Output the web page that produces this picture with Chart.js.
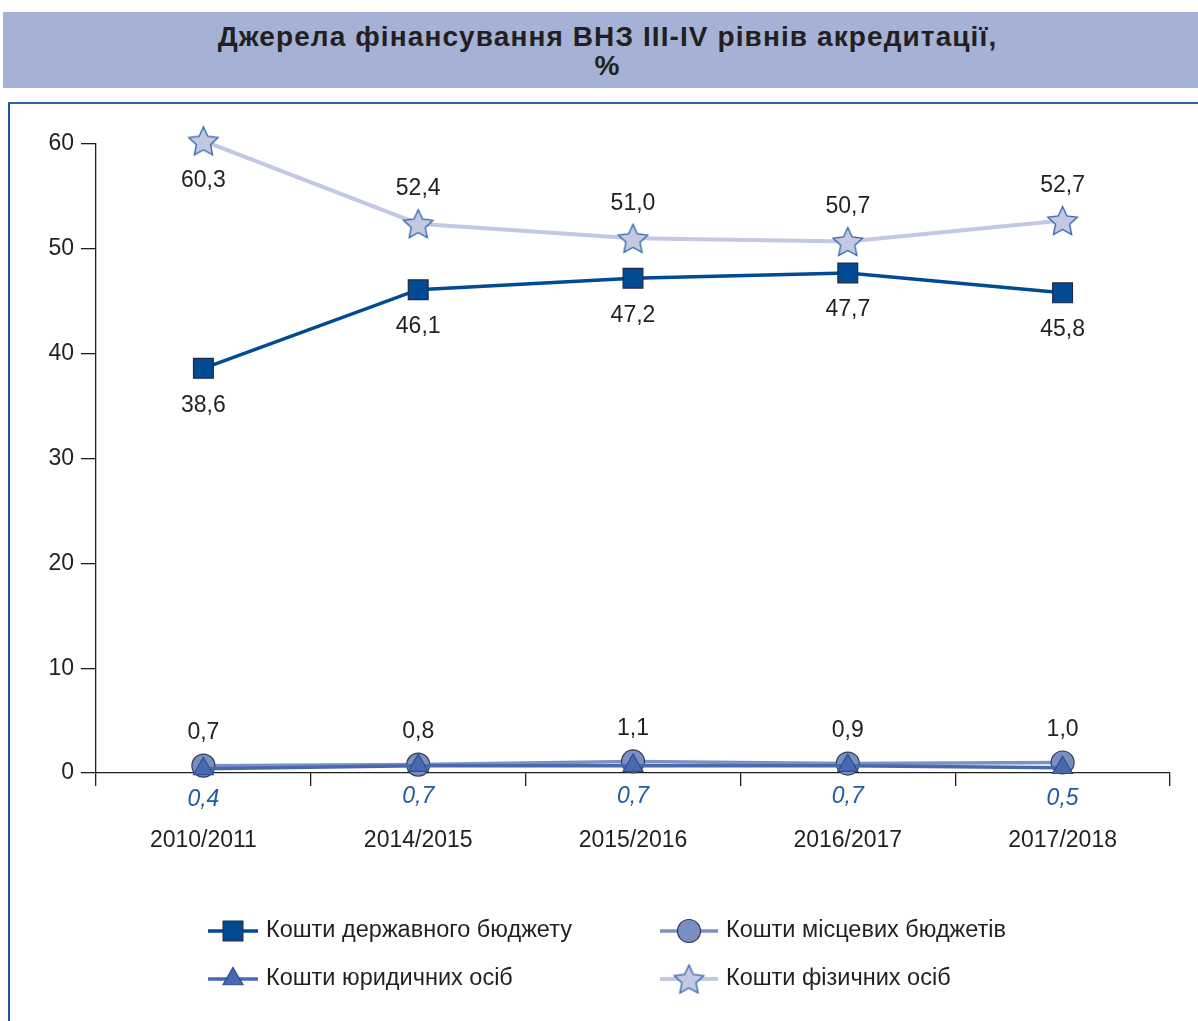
<!DOCTYPE html>
<html>
<head>
<meta charset="utf-8">
<script src="https://cdn.jsdelivr.net/npm/chart.js@4.4.1/dist/chart.umd.min.js"></script>
<style>
body{margin:0;background:#fff;width:1198px;height:1021px;overflow:hidden;position:relative;font-family:"Liberation Sans",Arial,sans-serif;}
#head{position:absolute;left:3px;top:12px;width:1195px;height:76px;background:#a5b1d5;color:#231f20;text-align:center;font-weight:bold;font-size:28px;letter-spacing:1.1px;line-height:29px;padding-top:10px;padding-left:14px;box-sizing:border-box;}
#frame{position:absolute;left:8px;top:102px;width:1190px;height:919px;border-left:2px solid #1d56a0;border-top:2px solid #2f63aa;}
#wrap{position:absolute;left:0;top:0;width:1198px;height:1021px;}
</style>
</head>
<body>
<div id="head">Джерела фінансування ВНЗ III-IV рівнів акредитації,<br>%</div>
<div id="frame"></div>
<div id="wrap"><canvas id="myChart" width="1198" height="1021"></canvas></div>
<script>
// academic years
const years = ["2010/2011", "2014/2015", "2015/2016", "2016/2017", "2017/2018"];

// shares of funding sources, %
const stateBudget = [38.6, 46.1, 47.2, 47.7, 45.8];
const localBudgets = [0.7, 0.8, 1.1, 0.9, 1.0];
const legalPersons = [0.4, 0.7, 0.7, 0.7, 0.5];
const individuals = [60.3, 52.4, 51.0, 50.7, 52.7];

const seriesNames = [
    "Кошти державного бюджету",
    "Кошти місцевих бюджетів",
    "Кошти юридичних осіб",
    "Кошти фізичних осіб"
];

const yTicks = [0, 10, 20, 30, 40, 50, 60];

const textColor = '#231f20';
const fontFamily = '"Liberation Sans", Arial, sans-serif';
const fmt = v => v.toFixed(1).replace('.', ',');

// five pointed star marker
function makeStar(r, fill, stroke) {
    const size = Math.ceil(r * 2 + 4);
    const c = document.createElement('canvas');
    c.width = size;
    c.height = size;
    const g = c.getContext('2d');
    g.beginPath();
    for (let i = 0; i < 10; i++) {
        const rr = i % 2 ? r * 0.48 : r;
        const a = -Math.PI / 2 + i * Math.PI / 5;
        g.lineTo(size / 2 + rr * Math.cos(a), size / 2 + 1.5 + rr * Math.sin(a));
    }
    g.closePath();
    g.fillStyle = fill;
    g.fill();
    g.lineWidth = 1.3;
    g.strokeStyle = stroke;
    g.stroke();
    return c;
}
const star = makeStar(15.5, '#c3c9e3', '#2d62a8');

// numbers next to the points
const valueLabels = {
    id: 'valueLabels',
    afterDatasetsDraw(chart) {
        const ctx = chart.ctx;
        chart.data.datasets.forEach((ds, i) => {
            const meta = chart.getDatasetMeta(i);
            meta.data.forEach((pt, j) => {
                const off = typeof ds.labelOffset === 'function' ? ds.labelOffset(j) : ds.labelOffset;
                ctx.save();
                ctx.font = ds.labelFont;
                ctx.fillStyle = ds.labelColor;
                ctx.textAlign = 'center';
                ctx.textBaseline = 'middle';
                ctx.fillText(fmt(ds.data[j]), pt.x, pt.y + off);
                ctx.restore();
            });
        });
    }
};

// two column legend under the chart: [line start, text start, y]
const legendSpots = [[208, 266, 931], [660, 726, 931], [208, 266, 979], [660, 726, 979]];
const sideLegend = {
    id: 'sideLegend',
    afterDraw(chart) {
        const ctx = chart.ctx;
        chart.data.datasets.forEach((ds, i) => {
            const [x, tx, y] = legendSpots[i];
            const x2 = tx - 8;
            ctx.save();
            ctx.strokeStyle = ds.borderColor;
            ctx.lineWidth = ds.borderWidth;
            ctx.beginPath();
            ctx.moveTo(x, y);
            ctx.lineTo(x2, y);
            ctx.stroke();
            ctx.fillStyle = ds.pointBackgroundColor;
            ctx.strokeStyle = ds.pointBorderColor;
            ctx.lineWidth = ds.pointBorderWidth;
            Chart.helpers.drawPoint(ctx, {
                pointStyle: ds.pointStyle,
                radius: ds.pointRadius,
                rotation: 0,
                borderWidth: ds.pointBorderWidth
            }, (x + x2) / 2, y);
            ctx.fillStyle = textColor;
            ctx.font = '23.5px ' + fontFamily;
            ctx.textAlign = 'left';
            ctx.textBaseline = 'middle';
            ctx.fillText(ds.label, tx, y);
            ctx.restore();
        });
    }
};

let myChart = document.getElementById("myChart").getContext("2d");

let fundingChart = new Chart(myChart, {
    type: 'line',
    data: {
        labels: years,
        datasets: [{//state budget
            label: seriesNames[0],
            data: stateBudget,
            borderColor: '#004b93',
            borderWidth: 3.5,
            pointStyle: 'rect',
            pointRadius: 14,
            pointBackgroundColor: '#004b93',
            pointBorderColor: '#1f2a44',
            pointBorderWidth: 1.2,
            order: 0,
            labelOffset: 37,
            labelFont: '23px ' + fontFamily,
            labelColor: textColor
        }, {//local budgets
            label: seriesNames[1],
            data: localBudgets,
            borderColor: '#7d90c6',
            borderWidth: 3.5,
            pointStyle: 'circle',
            pointRadius: 11.5,
            pointBackgroundColor: '#7b8ec3',
            pointBorderColor: '#333a4d',
            pointBorderWidth: 1.2,
            order: 2,
            labelOffset: -33,
            labelFont: '23px ' + fontFamily,
            labelColor: textColor
        }, {//legal persons
            label: seriesNames[2],
            data: legalPersons,
            borderColor: '#4a69ac',
            borderWidth: 3.5,
            pointStyle: 'triangle',
            pointRadius: 11.5,
            pointBackgroundColor: '#4a69ac',
            pointBorderColor: '#2b4f96',
            pointBorderWidth: 1.2,
            order: 1,
            labelOffset: 31,
            labelFont: 'italic 23px ' + fontFamily,
            labelColor: '#1e5ba3'
        }, {//individuals
            label: seriesNames[3],
            data: individuals,
            borderColor: '#c3c9e3',
            borderWidth: 4,
            pointStyle: star,
            pointRadius: 15.5,
            pointBackgroundColor: '#c3c9e3',
            pointBorderColor: '#2d62a8',
            pointBorderWidth: 1.3,
            order: 3,
            labelOffset: j => j === 0 ? 40 : -35,
            labelFont: '23px ' + fontFamily,
            labelColor: textColor
        }]
    },
    options: {
        responsive: false,
        animation: false,
        clip: false,
        layout: {
            padding: {left: 0, right: 28, top: 144, bottom: 148}
        },
        elements: {
            line: {tension: 0},
            point: {hoverRadius: 14}
        },
        plugins: {
            legend: {display: false},
            tooltip: {enabled: false},
            title: {display: false}
        },
        scales: {
            x: {
                offset: true,
                grid: {offset: true, drawOnChartArea: false, tickLength: 13, color: textColor, lineWidth: 1.3},
                border: {display: true, color: textColor, width: 1.3},
                ticks: {color: textColor, font: {size: 23, family: fontFamily}, padding: 41, maxRotation: 0, autoSkip: false},
                afterFit(s) { s.height = 100; }
            },
            y: {
                min: yTicks[0],
                max: yTicks[yTicks.length - 1],
                afterBuildTicks(s) { s.ticks = yTicks.map(v => ({value: v})); },
                grid: {drawOnChartArea: false, tickLength: 15, color: textColor, lineWidth: 1.3},
                border: {display: true, color: textColor, width: 1.3},
                ticks: {color: textColor, font: {size: 23, family: fontFamily}, padding: 7},
                afterFit(s) { s.width = 96; }
            }
        }
    },
    plugins: [valueLabels, sideLegend]
});
</script>
</body>
</html>
